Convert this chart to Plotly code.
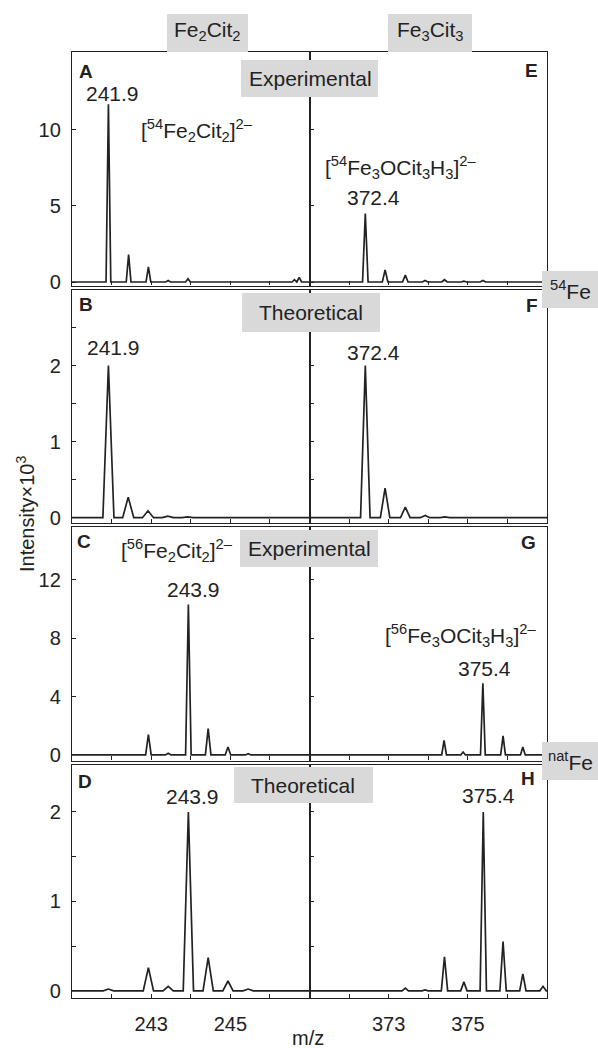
import plotly.graph_objects as go
from plotly.subplots import make_subplots

# ---------------- data ----------------
# Left column: Fe2Cit2, m/z 241-247 ; right column: Fe3Cit3, m/z 371-377
mz_left_range = [241.0, 247.0]
mz_right_range = [371.0, 377.0]

# A: [54Fe2Cit2]2- experimental
a_mz = [241.92, 242.43, 242.93, 243.43, 243.93, 246.62, 246.74]
a_int = [11.7, 1.8, 1.0, 0.1, 0.22, 0.15, 0.3]
# B: [54Fe2Cit2]2- theoretical
b_mz = [241.92, 242.42, 242.92, 243.42, 243.92]
b_int = [2.0, 0.27, 0.09, 0.02, 0.01]
# C: [56Fe2Cit2]2- experimental
c_mz = [241.25, 242.93, 243.43, 243.94, 244.44, 244.94, 245.45, 245.9]
c_int = [0.05, 1.4, 0.12, 10.3, 1.8, 0.55, 0.08, 0.05]
# D: [56Fe2Cit2]2- theoretical
d_mz = [241.92, 242.93, 243.43, 243.94, 244.44, 244.94, 245.45]
d_int = [0.02, 0.26, 0.05, 2.0, 0.37, 0.11, 0.02]
# E: [54Fe3OCit3H3]2- experimental
e_mz = [372.41, 372.91, 373.42, 373.92, 374.41, 374.9, 375.38]
e_int = [4.5, 0.8, 0.45, 0.1, 0.15, 0.05, 0.1]
# F: [54Fe3OCit3H3]2- theoretical
f_mz = [372.41, 372.91, 373.42, 373.92, 374.42]
f_int = [2.0, 0.39, 0.14, 0.03, 0.01]
# G: [56Fe3OCit3H3]2- experimental
g_mz = [371.86, 373.44, 374.4, 374.88, 375.38, 375.89, 376.39]
g_int = [0.03, 0.05, 1.0, 0.2, 4.9, 1.3, 0.55]
# H: [56Fe3OCit3H3]2- theoretical
h_mz = [373.42, 373.92, 374.41, 374.9, 375.39, 375.89, 376.39, 376.9]
h_int = [0.03, 0.01, 0.38, 0.1, 2.0, 0.55, 0.19, 0.05]

# tick values / labels
a_yticks = [0, 5, 10]
b_yticks = [0, 0.5, 1, 1.5, 2, 2.5]
c_yticks = [0, 4, 8, 12]
d_yticks = [0, 0.5, 1, 1.5, 2]
left_xticks = [242, 243, 244, 245, 246]
right_xticks = [372, 373, 374, 375, 376]
left_xlabels = ["", "243", "", "245", ""]
right_xlabels = ["", "373", "", "375", ""]

peak_labels = ["241.9", "372.4", "243.9", "375.4"]

# ---------------- layout geometry ----------------
W, H = 598, 1048
L, R, T, B = 72, 547, 52, 998
PW, PH = R - L, B - T


def px(x):
    return (x - L) / PW


def py(y):
    return (B - y) / PH


INK = "#222222"
BOX = "#d9d9d9"
FONT = "Liberation Sans, Arial, sans-serif"

fig = make_subplots(rows=4, cols=2, horizontal_spacing=0, vertical_spacing=4 / PH)

panels = [
    (1, 1, a_mz, a_int, 0.06, [-0.23, 15.13], a_yticks, mz_left_range),
    (2, 1, b_mz, b_int, 0.14, [-0.07, 3.0], b_yticks, mz_left_range),
    (3, 1, c_mz, c_int, 0.07, [-0.38, 15.6], c_yticks, mz_left_range),
    (4, 1, d_mz, d_int, 0.13, [-0.08, 2.53], d_yticks, mz_left_range),
    (1, 2, e_mz, e_int, 0.07, [-0.23, 15.13], a_yticks, mz_right_range),
    (2, 2, f_mz, f_int, 0.12, [-0.07, 3.0], b_yticks, mz_right_range),
    (3, 2, g_mz, g_int, 0.06, [-0.38, 15.6], c_yticks, mz_right_range),
    (4, 2, h_mz, h_int, 0.08, [-0.08, 2.53], d_yticks, mz_right_range),
]

for row, col, mz, inten, w, yr, yt, xr in panels:
    xs, ys = [xr[0]], [0]
    for c, hgt in sorted(zip(mz, inten)):
        xs += [c - w, c, c + w]
        ys += [0, hgt, 0]
    xs.append(xr[1])
    ys.append(0)
    fig.add_trace(
        go.Scatter(x=xs, y=ys, mode="lines", line=dict(color=INK, width=1.7),
                   showlegend=False, hoverinfo="skip"),
        row=row, col=col,
    )
    ylabels = [("" if (v != int(v)) else str(int(v))) for v in yt]
    fig.update_yaxes(
        range=yr, tickvals=yt, ticktext=ylabels, showticklabels=(col == 1),
        ticks="inside", ticklen=4, tickwidth=1, tickcolor=INK,
        showline=True, mirror=True, linecolor=INK, linewidth=1.4,
        showgrid=False, zeroline=False, ticklabelstandoff=6,
        tickfont=dict(size=20, color=INK, family=FONT),
        row=row, col=col,
    )
    fig.update_xaxes(
        range=xr,
        tickvals=left_xticks if col == 1 else right_xticks,
        ticktext=(left_xlabels if col == 1 else right_xlabels),
        showticklabels=(row == 4),
        ticks="inside", ticklen=4, tickwidth=1, tickcolor=INK,
        showline=True, mirror=True, linecolor=INK, linewidth=1.4,
        showgrid=False, zeroline=False, ticklabelstandoff=8,
        tickfont=dict(size=20, color=INK, family=FONT),
        row=row, col=col,
    )

# ---------------- gray label boxes ----------------
boxes = [
    (167, 14, 248, 52),   # Fe2Cit2
    (388, 14, 472, 52),   # Fe3Cit3
    (241, 60, 378, 97),   # Experimental (A/E)
    (542, 271, 598, 308),  # 54Fe
    (242, 293, 380, 332),  # Theoretical (B/F)
    (240, 530, 378, 567),  # Experimental (C/G)
    (542, 742, 598, 780),  # natFe
    (234, 767, 373, 803),  # Theoretical (D/H)
]
for x0, y0, x1, y1 in boxes:
    fig.add_shape(type="rect", xref="paper", yref="paper",
                  x0=px(x0), x1=px(x1), y0=py(y1), y1=py(y0),
                  fillcolor=BOX, line=dict(width=0), layer="above")

# ---------------- texts ----------------
texts = [
    ("Fe<sub>2</sub>Cit<sub>2</sub>", 207, 31, 21, False),
    ("Fe<sub>3</sub>Cit<sub>3</sub>", 430, 31, 21, False),
    ("Experimental", 310, 79, 21, False),
    ("<sup>54</sup>Fe", 570, 290, 21, False),
    ("Theoretical", 311, 312, 21, False),
    ("Experimental", 309, 548, 21, False),
    ("<sup>nat</sup>Fe", 570, 761, 21, False),
    ("Theoretical", 303, 785, 21, False),
    ("A", 86, 71, 19, True),
    ("B", 86, 304, 19, True),
    ("C", 84, 541, 19, True),
    ("D", 85, 781, 19, True),
    ("E", 531, 70, 19, True),
    ("F", 532, 305, 19, True),
    ("G", 528, 542, 19, True),
    ("H", 528, 779, 19, True),
    (peak_labels[0], 112, 94, 21, False),
    (peak_labels[0], 113, 347, 21, False),
    (peak_labels[1], 373, 198, 21, False),
    (peak_labels[1], 373, 352, 21, False),
    (peak_labels[2], 193, 589, 21, False),
    (peak_labels[2], 192, 796, 21, False),
    (peak_labels[3], 484, 668, 21, False),
    (peak_labels[3], 488, 795, 21, False),
    ("[<sup>54</sup>Fe<sub>2</sub>Cit<sub>2</sub>]<sup>2\u2013</sup>", 197, 130, 21, False),
    ("[<sup>54</sup>Fe<sub>3</sub>OCit<sub>3</sub>H<sub>3</sub>]<sup>2\u2013</sup>", 400, 168, 21, False),
    ("[<sup>56</sup>Fe<sub>2</sub>Cit<sub>2</sub>]<sup>2\u2013</sup>", 177, 550, 21, False),
    ("[<sup>56</sup>Fe<sub>3</sub>OCit<sub>3</sub>H<sub>3</sub>]<sup>2\u2013</sup>", 460, 635, 21, False),
    ("m/z", 308, 1038, 20, False),
]
for txt, x, y, size, bold in texts:
    fig.add_annotation(
        text=("<b>%s</b>" % txt) if bold else txt,
        xref="paper", yref="paper", x=px(x), y=py(y),
        xanchor="center", yanchor="middle", showarrow=False,
        font=dict(size=size, color=INK, family=FONT),
    )

fig.add_annotation(
    text="Intensity\u00d710<sup>3</sup>", xref="paper", yref="paper",
    x=px(25), y=py(514), xanchor="center", yanchor="middle",
    textangle=-90, showarrow=False,
    font=dict(size=20, color=INK, family=FONT),
)

fig.update_layout(
    width=W, height=H,
    margin=dict(l=L, r=W - R, t=T, b=H - B),
    paper_bgcolor="white", plot_bgcolor="white",
    showlegend=False,
    font=dict(family=FONT, color=INK),
)

fig.write_html(
    "out.html",
    config={"displayModeBar": False},
    post_script="document.body.style.margin='0';document.body.style.overflow='hidden';",
)
